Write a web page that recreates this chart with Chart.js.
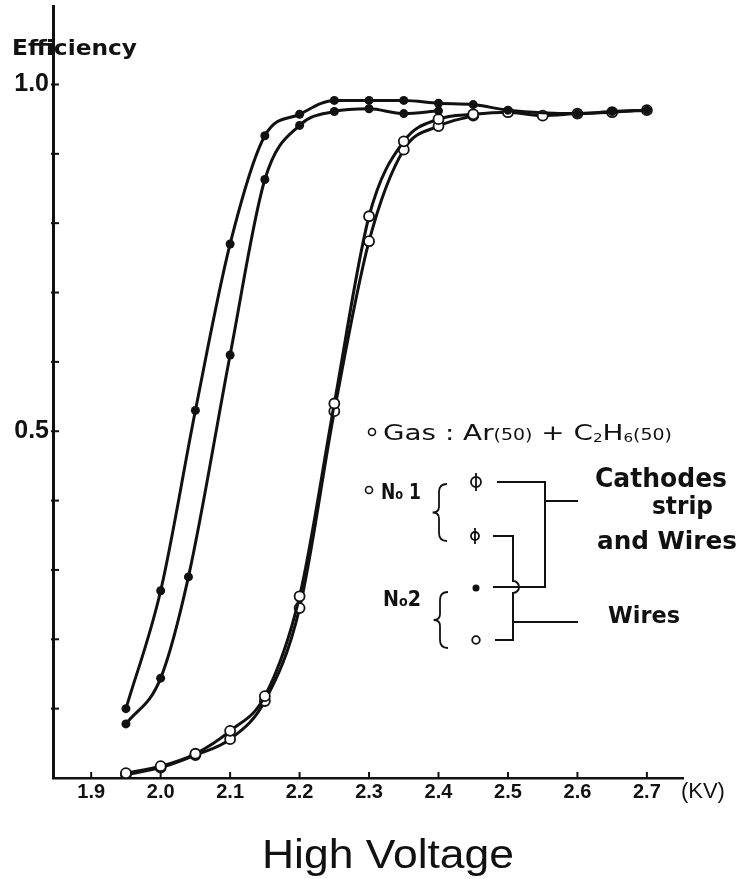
<!DOCTYPE html>
<html>
<head>
<meta charset="UTF-8">
<title>Efficiency vs High Voltage</title>
<script src="https://cdn.jsdelivr.net/npm/chart.js@4.4.0/dist/chart.umd.min.js"></script>
<style>
  body { margin: 0; background: #fff; }
  #wrap { width: 739px; height: 879px; }
</style>
</head>
<body>
<div id="wrap"><canvas id="effChart"></canvas></div>
<script>
// readings (KV, efficiency)
const no2StripX = [1.95, 2.0, 2.05, 2.1, 2.15, 2.2, 2.25, 2.3, 2.35, 2.4, 2.45, 2.5, 2.6, 2.65, 2.7];
const no2StripY = [0.10, 0.27, 0.53, 0.77, 0.926, 0.957, 0.977, 0.977, 0.977, 0.973, 0.971, 0.963, 0.958, 0.961, 0.963];

const no2WireX = [1.95, 2.0, 2.04, 2.1, 2.15, 2.2, 2.25, 2.3, 2.35, 2.4];
const no2WireY = [0.078, 0.144, 0.29, 0.61, 0.863, 0.941, 0.961, 0.965, 0.958, 0.962];

const no1StripX = [1.95, 2.0, 2.05, 2.1, 2.15, 2.2, 2.25, 2.3, 2.35, 2.4, 2.45, 2.5, 2.55, 2.6, 2.65, 2.7];
const no1StripY = [0.007, 0.017, 0.035, 0.068, 0.118, 0.262, 0.54, 0.81, 0.918, 0.95, 0.957, 0.96, 0.955, 0.958, 0.96, 0.963];

const no1WireX = [1.95, 2.0, 2.05, 2.1, 2.15, 2.2, 2.25, 2.3, 2.35, 2.4, 2.45];
const no1WireY = [0.005, 0.015, 0.033, 0.056, 0.111, 0.245, 0.529, 0.774, 0.906, 0.94, 0.955];

const xTickVals = [1.9, 2.0, 2.1, 2.2, 2.3, 2.4, 2.5, 2.6, 2.7];
const yLabelVals = [0.5, 1.0];
const yMinorVals = [0.1, 0.2, 0.3, 0.4, 0.5, 0.6, 0.7, 0.8, 0.9, 1.0];

const INK = '#111';

function pairs(xs, ys) {
  return xs.map((x, i) => ({ x: x, y: ys[i] }));
}

function lineSet(label, xs, ys, open) {
  return {
    label: label,
    data: pairs(xs, ys),
    borderColor: INK,
    borderWidth: 3,
    cubicInterpolationMode: 'monotone',
    pointRadius: open ? 5 : 4.5,
    pointBorderWidth: open ? 1.8 : 0,
    pointBackgroundColor: open ? '#fff' : INK,
    pointBorderColor: INK,
  };
}

// draws text pieces squeezed to a given width
function fitText(ctx, pieces, x, baseline, width, family) {
  let total = 0;
  for (let p of pieces) {
    ctx.font = (p.weight || 'normal') + ' ' + p.size + 'px ' + family;
    total += ctx.measureText(p.t).width;
  }
  ctx.save();
  ctx.translate(x, baseline);
  ctx.scale(width / total, 1);
  let cx = 0;
  for (let p of pieces) {
    ctx.font = (p.weight || 'normal') + ' ' + p.size + 'px ' + family;
    ctx.fillText(p.t, cx, p.dy || 0);
    cx += ctx.measureText(p.t).width;
  }
  ctx.restore();
}

function brace(ctx, x, top, bot, w) {
  let mid = (top + bot) / 2;
  ctx.beginPath();
  ctx.moveTo(x + w, top);
  ctx.quadraticCurveTo(x, top, x, top + 8);
  ctx.lineTo(x, mid - 6);
  ctx.quadraticCurveTo(x, mid, x - w * 0.8, mid);
  ctx.quadraticCurveTo(x, mid, x, mid + 6);
  ctx.lineTo(x, bot - 8);
  ctx.quadraticCurveTo(x, bot, x + w, bot);
  ctx.stroke();
}

const decorations = {
  id: 'decorations',
  afterDraw(chart) {
    const ctx = chart.ctx;
    const xs = chart.scales.x, ys = chart.scales.y;
    const area = chart.chartArea;
    ctx.save();
    ctx.strokeStyle = INK;
    ctx.fillStyle = INK;
    ctx.textBaseline = 'alphabetic';
    ctx.textAlign = 'left';

    // inward tick marks
    ctx.lineWidth = 2;
    for (let v of yMinorVals) {
      let py = ys.getPixelForValue(v);
      ctx.beginPath();
      ctx.moveTo(area.left - 2, py);
      ctx.lineTo(area.left + 6, py);
      ctx.stroke();
    }
    for (let v of xTickVals) {
      let px = xs.getPixelForValue(v);
      ctx.beginPath();
      ctx.moveTo(px, area.bottom);
      ctx.lineTo(px, area.bottom - 6);
      ctx.stroke();
    }

    // axis texts
    const F = '"DejaVu Sans"';
    fitText(ctx, [{ t: 'Efficiency', size: 22, weight: 'bold' }], 12, 55, 125, F);
    ctx.font = '22px "Liberation Sans"';
    ctx.fillText('(KV)', xs.getPixelForValue(2.7) + 34, area.bottom + 20);
    fitText(ctx, [{ t: 'High Voltage', size: 40 }], 262, 868, 252, '"Liberation Sans"');

    // legend block
    ctx.lineWidth = 1.6;
    ctx.beginPath(); ctx.arc(372, 432, 3.5, 0, Math.PI * 2); ctx.stroke();
    fitText(ctx, [
      { t: 'Gas : Ar', size: 22 }, { t: '(50)', size: 15 }, { t: ' + C', size: 22 },
      { t: '2', size: 12, dy: 2 }, { t: 'H', size: 22 }, { t: '6', size: 12, dy: 2 },
      { t: '(50)', size: 15 }
    ], 383, 440, 289, F);

    ctx.beginPath(); ctx.arc(369, 490, 3.5, 0, Math.PI * 2); ctx.stroke();
    fitText(ctx, [{ t: 'N', size: 21, weight: 'bold' }, { t: 'o', size: 14, weight: 'bold' }, { t: ' 1', size: 21, weight: 'bold' }], 381, 499, 40, F);
    fitText(ctx, [{ t: 'N', size: 21, weight: 'bold' }, { t: 'o', size: 14, weight: 'bold' }, { t: '2', size: 21, weight: 'bold' }], 383, 606, 38, F);

    ctx.lineWidth = 1.8;
    brace(ctx, 439, 484, 541, 8);
    brace(ctx, 440, 592, 648, 8);

    // symbols
    ctx.beginPath(); ctx.arc(476, 482, 5, 0, Math.PI * 2); ctx.stroke();
    ctx.beginPath(); ctx.moveTo(476, 473); ctx.lineTo(476, 491); ctx.stroke();
    ctx.beginPath(); ctx.arc(475, 536, 4, 0, Math.PI * 2); ctx.stroke();
    ctx.beginPath(); ctx.moveTo(475, 528); ctx.lineTo(475, 544); ctx.stroke();
    ctx.beginPath(); ctx.arc(476, 588, 3.5, 0, Math.PI * 2); ctx.fill();
    ctx.beginPath(); ctx.arc(476, 640, 3.8, 0, Math.PI * 2); ctx.stroke();

    // connectors
    ctx.lineWidth = 2;
    ctx.beginPath();
    ctx.moveTo(497, 482); ctx.lineTo(545, 482); ctx.lineTo(545, 587); ctx.lineTo(493, 587);
    ctx.moveTo(545, 501); ctx.lineTo(578, 501);
    ctx.stroke();
    ctx.beginPath();
    ctx.moveTo(493, 536); ctx.lineTo(513, 536); ctx.lineTo(513, 581);
    ctx.arc(513, 587, 6, -Math.PI / 2, Math.PI / 2, false);
    ctx.lineTo(513, 640); ctx.lineTo(495, 640);
    ctx.moveTo(513, 622); ctx.lineTo(578, 622);
    ctx.stroke();

    fitText(ctx, [{ t: 'Cathodes', size: 26, weight: 'bold' }], 595, 487, 132, F);
    fitText(ctx, [{ t: 'strip', size: 24, weight: 'bold' }], 652, 514, 61, F);
    fitText(ctx, [{ t: 'and Wires', size: 25, weight: 'bold' }], 597, 549, 140, F);
    fitText(ctx, [{ t: 'Wires', size: 23, weight: 'bold' }], 608, 623, 72, F);

    ctx.restore();
  }
};

new Chart(document.getElementById('effChart'), {
  type: 'line',
  data: {
    datasets: [
      lineSet('No2 cathodes strip and wires', no2StripX, no2StripY, false),
      lineSet('No2 wires', no2WireX, no2WireY, false),
      lineSet('No1 cathodes strip and wires', no1StripX, no1StripY, true),
      lineSet('No1 wires', no1WireX, no1WireY, true),
    ]
  },
  options: {
    responsive: true,
    maintainAspectRatio: false,
    devicePixelRatio: 1,
    animation: false,
    layout: { padding: { top: 5, right: 56, left: 0, bottom: 0 } },
    plugins: { legend: { display: false }, tooltip: { enabled: false } },
    scales: {
      x: {
        type: 'linear',
        min: 1.845,
        max: 2.752,
        afterBuildTicks: (s) => { s.ticks = xTickVals.map(v => ({ value: v })); },
        afterFit: (s) => { s.height = 101; s.paddingLeft = 0; s.paddingRight = 0; },
        grid: { display: false, drawTicks: false },
        border: { display: true, color: INK, width: 2.5 },
        ticks: {
          color: INK,
          padding: 2,
          maxRotation: 0,
          font: { family: '"Liberation Sans"', size: 20, weight: 'bold' },
          callback: (v) => Number(v).toFixed(1)
        }
      },
      y: {
        type: 'linear',
        min: 0,
        max: 1.112,
        afterBuildTicks: (s) => { s.ticks = yLabelVals.map(v => ({ value: v })); },
        afterFit: (s) => { s.width = 53; s.paddingTop = 0; s.paddingBottom = 0; },
        grid: { display: false, drawTicks: false },
        border: { display: true, color: INK, width: 3 },
        ticks: {
          color: INK,
          padding: 4,
          font: { family: '"Liberation Sans"', size: 25, weight: 'bold' },
          callback: (v) => Number(v).toFixed(1)
        }
      }
    }
  },
  plugins: [decorations]
});
</script>
</body>
</html>
